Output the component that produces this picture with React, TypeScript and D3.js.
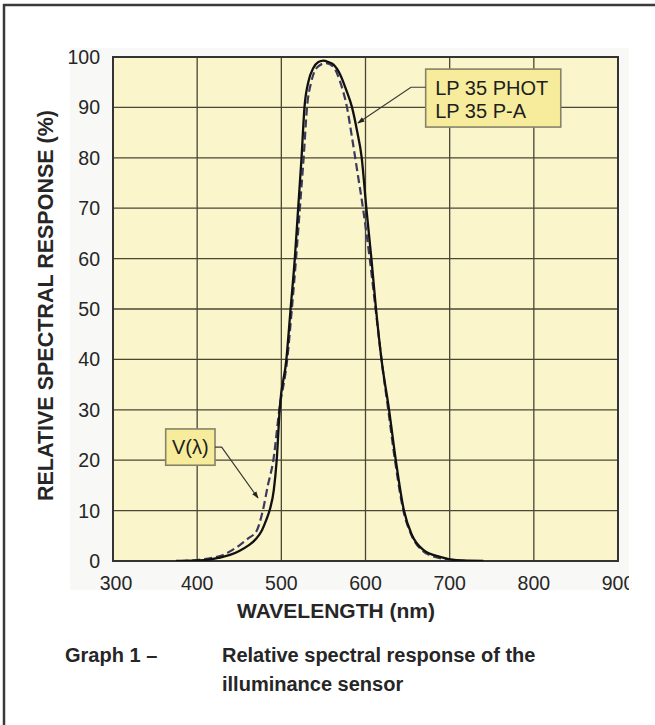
import React from "react";
import * as d3 from "d3";

// ---- Data ----
const xTicks = [300, 400, 500, 600, 700, 800, 900];
const yTicks = [0, 10, 20, 30, 40, 50, 60, 70, 80, 90, 100];

// Sensor (LP 35 PHOT / LP 35 P-A) – solid
const sensorWavelength = [375, 400, 411, 425, 439, 450, 461, 470, 477, 482, 486.5, 491, 494.5, 498, 506, 511, 516, 520, 524, 527.5, 532, 538, 544, 550, 556, 562, 570, 577, 584, 590, 595.5, 601, 607, 612.5, 619, 628, 636, 645.7, 655, 668.7, 688.5, 708, 740];
const sensorResponse = [0, 0.1, 0.2, 0.6, 1.2, 2, 3.1, 4.4, 6.1, 8.1, 10.3, 14, 20, 30, 40, 50, 60, 70, 80, 90, 95, 97.8, 99, 99.3, 99, 98.5, 96.5, 93.5, 90, 85.3, 80, 70, 60, 50, 40, 30, 20, 10, 5.2, 2.2, 0.8, 0.15, 0];

// V(lambda) – dashed
const vLambdaWavelength = [380, 400, 420, 431, 440, 451, 460, 470.7, 478, 484, 490.5, 497.6, 507, 512.5, 517.5, 522, 526.5, 530.5, 535.5, 543, 553, 562, 570, 578, 584, 590, 597, 605, 612, 619, 627, 635, 645, 655, 668, 685, 700, 720];
const vLambdaResponse = [0, 0.2, 0.7, 1.2, 2, 3.2, 4.4, 6, 10, 15, 20, 30, 40, 50, 60, 70, 80, 90, 95, 98, 98.8, 98, 95, 90, 84, 77.6, 70, 60, 50, 40, 30, 20, 10, 5, 2, 0.7, 0.2, 0];

// Annotation anchors in data units [wavelength, response]
const sensorLabel = ["LP 35 PHOT", "LP 35 P-A"];
const sensorLeader = [[671.5, 94], [654, 94], [591, 86.9]];
const sensorBox = [671.5, 97.6, 832, 86.1];
const vLabel = "V(λ)";
const vLeader = [[421.2, 22.6], [429.1, 22.6], [472.3, 12.5]];
const vBox = [362.6, 26.2, 421.2, 19.0];

const FONT = "'Liberation Sans', Arial, Helvetica, sans-serif";

export default function App() {
  const W = 655, H = 725;
  const left = 113, right = 618, top = 57, bottom = 561;
  const x = d3.scaleLinear().domain([300, 900]).range([left, right]);
  const y = d3.scaleLinear().domain([0, 100]).range([bottom, top]);

  const line = d3.line<[number, number]>()
    .x((d) => x(d[0]))
    .y((d) => y(d[1]))
    .curve(d3.curveMonotoneX);

  const sensorPts = sensorWavelength.map((w, i) => [w, sensorResponse[i]] as [number, number]);
  const vPts = vLambdaWavelength.map((w, i) => [w, vLambdaResponse[i]] as [number, number]);

  const leaderLine = d3.line<number[]>().x((d) => x(d[0])).y((d) => y(d[1]));

  const gridColor = "#4a4735";
  const textColor = "#262626";

  return (
    <svg width={W} height={H} style={{ position: "absolute", left: 0, top: 0, display: "block" }} fontFamily={FONT}>
      <defs>
        <clipPath id="panelClip">
          <rect x={70} y={48} width={559} height={545} />
        </clipPath>
        <clipPath id="plotClip">
          <rect x={left} y={top} width={right - left} height={bottom - top} />
        </clipPath>
        <marker id="arrow" viewBox="0 0 10 10" refX="9" refY="5" markerWidth="6" markerHeight="6" orient="auto">
          <path d="M0,1.5 L10,5 L0,8.5 z" fill="#222" />
        </marker>
      </defs>
      <rect x={0} y={0} width={W} height={H} fill="#ffffff" />
      {/* outer frame */}
      <line x1={3} x2={W} y1={5} y2={5} stroke="#3a3a3a" strokeWidth={2.5} />
      <line x1={4} x2={4} y1={4} y2={H} stroke="#3a3a3a" strokeWidth={2.5} />

      {/* light panel */}
      <rect x={70} y={48} width={559} height={542} fill="#f8f8f6" />

      {/* plot */}
      <rect x={left} y={top} width={right - left} height={bottom - top} fill="#faf5cb" />
      {xTicks.map((t) => (
        <line key={"gx" + t} x1={x(t)} x2={x(t)} y1={top} y2={bottom} stroke={gridColor} strokeWidth={1.3} />
      ))}
      {yTicks.map((t) => (
        <line key={"gy" + t} x1={left} x2={right} y1={y(t)} y2={y(t)} stroke={gridColor} strokeWidth={1.3} />
      ))}
      <rect x={left} y={top} width={right - left} height={bottom - top} fill="none" stroke="#333" strokeWidth={2} />

      {/* legend box */}
      <rect
        x={x(sensorBox[0])}
        y={y(sensorBox[1])}
        width={x(sensorBox[2]) - x(sensorBox[0])}
        height={y(sensorBox[3]) - y(sensorBox[1])}
        fill="#f6ec9c"
        stroke="#85836a"
        strokeWidth={1.6}
      />
      <text x={x(sensorBox[0]) + 9.5} y={95} fontSize={20} fill="#1e1e1e">{sensorLabel[0]}</text>
      <text x={x(sensorBox[0]) + 9.5} y={118} fontSize={20} fill="#1e1e1e">{sensorLabel[1]}</text>
      <path d={leaderLine(sensorLeader) || ""} fill="none" stroke="#3a3a3a" strokeWidth={1.2} markerEnd="url(#arrow)" />

      <rect
        x={x(vBox[0])}
        y={y(vBox[1])}
        width={x(vBox[2]) - x(vBox[0])}
        height={y(vBox[3]) - y(vBox[1])}
        fill="#f6ec9c"
        stroke="#85836a"
        strokeWidth={1.6}
      />
      <text x={(x(vBox[0]) + x(vBox[2])) / 2} y={454} fontSize={20} textAnchor="middle" fill="#1e1e1e">{vLabel}</text>
      <path d={leaderLine(vLeader) || ""} fill="none" stroke="#3a3a3a" strokeWidth={1.2} markerEnd="url(#arrow)" />

      {/* curves */}
      <g clipPath="url(#plotClip)">
        <path d={line(vPts) || ""} fill="none" stroke="#3a3a5e" strokeWidth={2.2} strokeDasharray="8,4" />
        <path d={line(sensorPts) || ""} fill="none" stroke="#111" strokeWidth={2.3} />
      </g>

      {/* tick labels */}
      {yTicks.map((t) => (
        <text key={"ty" + t} x={100} y={y(t) + 7} fontSize={19.5} textAnchor="end" fill={textColor}>{t}</text>
      ))}
      <g clipPath="url(#panelClip)">
        {xTicks.map((t) => (
          <text key={"tx" + t} x={x(t) + (t === 300 ? 3 : 0)} y={590} fontSize={19.5} textAnchor="middle" fill={textColor}>{t}</text>
        ))}
      </g>

      {/* axis titles */}
      <text x={336} y={618} fontSize={21} fontWeight="bold" textAnchor="middle" fill={textColor}>WAVELENGTH (nm)</text>
      <text transform="translate(53,305.5) rotate(-90)" fontSize={21.5} fontWeight="bold" textAnchor="middle" fill={textColor}>
        RELATIVE SPECTRAL RESPONSE (%)
      </text>

      {/* caption */}
      <text x={65} y={662} fontSize={20} fontWeight="bold" fill={textColor}>Graph 1 –</text>
      <text x={222} y={662} fontSize={20} fontWeight="bold" fill={textColor}>Relative spectral response of the</text>
      <text x={222} y={691} fontSize={20} fontWeight="bold" fill={textColor}>illuminance sensor</text>
    </svg>
  );
}
